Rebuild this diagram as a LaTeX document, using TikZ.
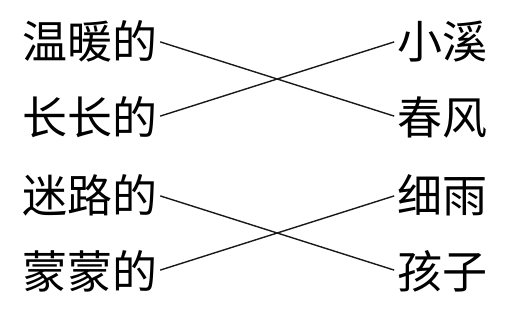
\documentclass[tikz,border=0pt]{standalone}
\usepackage{fontspec}
\newfontfamily\cjk{Noto Sans CJK SC}
\begin{document}
\begin{tikzpicture}[x=1pt,y=1pt,
  word/.style={font=\cjk\fontsize{45pt}{50pt}\selectfont, inner sep=0pt,
    text height=39.6pt, text depth=5.4pt},
  lw/.style={word, anchor=west},
  rw/.style={word, anchor=west},
  link/.style={line width=1.4pt, color=black!90, shorten <=3pt, shorten >=3pt}]
\useasboundingbox (0,0) rectangle (514,309);
\node[lw] (l1) at (22,268) {温暖的};
\node[lw] (l2) at (22,192) {长长的};
\node[lw] (l3) at (22,114) {迷路的};
\node[lw] (l4) at (22,38) {蒙蒙的};
\node[rw] (r1) at (397,268) {小溪};
\node[rw] (r2) at (397,192) {春风};
\node[rw] (r3) at (397,114) {细雨};
\node[rw] (r4) at (397,38) {孩子};
\draw[link] (l1.east) -- (r2.west);
\draw[link] (l2.east) -- (r1.west);
\draw[link] (l3.east) -- (r4.west);
\draw[link] (l4.east) -- (r3.west);
\end{tikzpicture}
\end{document}
